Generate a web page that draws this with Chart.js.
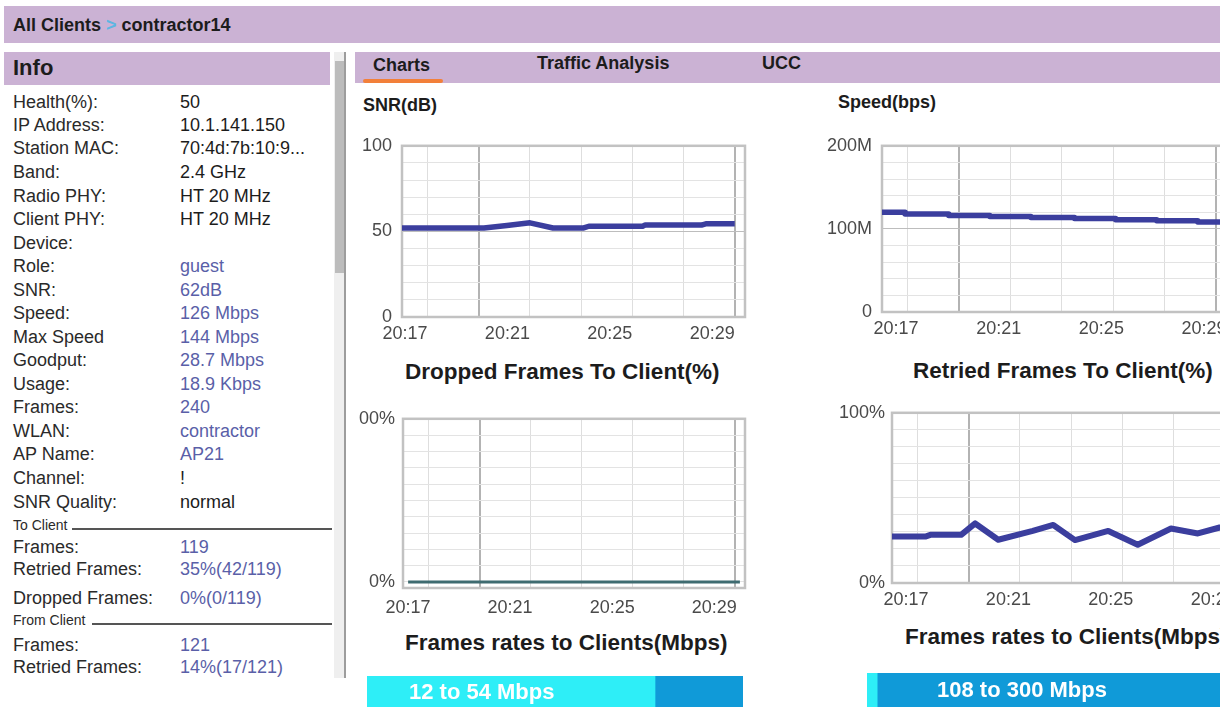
<!DOCTYPE html>
<html>
<head>
<meta charset="utf-8">
<script src="https://cdn.jsdelivr.net/npm/chart.js@4.4.1/dist/chart.umd.min.js"></script>
<style>
  html, body { margin: 0; padding: 0; width: 1220px; height: 709px; overflow: hidden; background: #fff;
    font-family: "Liberation Sans", Arial, sans-serif; color: #1c1c1c; }
  .abs { position: absolute; white-space: nowrap; }
  .band { position: absolute; background: #cbb2d4; }
  .bold { font-weight: bold; }
  canvas { position: absolute; }
  .blue { color: #5a5fa8; }
</style>
</head>
<body>

<!-- top breadcrumb -->
<div class="band" style="left:4px;top:6px;width:1220px;height:37px"></div>
<div class="abs bold" style="left:13px;top:13px;font-size:18px;line-height:24px">All Clients <span style="color:#5cb6e2">&gt;</span> contractor14</div>

<!-- info panel -->
<div class="band" style="left:4px;top:52px;width:326px;height:33px"></div>
<div class="abs bold" style="left:13px;top:55px;font-size:22px;line-height:26px">Info</div>
<div id="info"></div>

<!-- scrollbar -->
<div class="abs" style="left:334px;top:52px;width:10px;height:626px;background:#efefef;border-right:2px solid #9d9d9d"></div>
<div class="abs" style="left:335px;top:61px;width:9px;height:212px;background:#bcbcbc"></div>

<!-- tabs -->
<div class="band" style="left:355px;top:52px;width:870px;height:31px"></div>
<div class="abs bold" style="left:373px;top:53px;font-size:18px;line-height:24px">Charts</div>
<div class="abs" style="left:363px;top:79px;width:80px;height:4px;border-radius:2px;background:#f2803a"></div>
<div class="abs bold" style="left:537px;top:51px;font-size:18px;line-height:24px">Traffic Analysis</div>
<div class="abs bold" style="left:762px;top:51px;font-size:18px;line-height:24px">UCC</div>

<!-- chart titles -->
<div class="abs bold" style="left:363px;top:93px;font-size:18px;line-height:24px">SNR(dB)</div>
<div class="abs bold" style="left:838px;top:90px;font-size:18px;line-height:24px">Speed(bps)</div>
<div class="abs bold" style="left:405px;top:358px;font-size:22.5px;line-height:28px">Dropped Frames To Client(%)</div>
<div class="abs bold" style="left:913px;top:357px;font-size:22.5px;line-height:28px">Retried Frames To Client(%)</div>
<div class="abs bold" style="left:405px;top:629px;font-size:22.5px;line-height:28px">Frames rates to Clients(Mbps)</div>
<div class="abs bold" style="left:905px;top:623px;font-size:22.5px;line-height:28px">Frames rates to Clients(Mbps)</div>

<canvas id="snr" width="400" height="230" style="left:350px;top:125px"></canvas>
<canvas id="speed" width="440" height="225" style="left:800px;top:125px"></canvas>
<canvas id="dropped" width="400" height="230" style="left:350px;top:400px"></canvas>
<canvas id="retried" width="445" height="230" style="left:800px;top:395px"></canvas>

<canvas id="rateLeft" width="376" height="31" style="left:367px;top:676px"></canvas>
<canvas id="rateRight" width="377" height="34" style="left:867px;top:673px"></canvas>
<div class="abs bold" style="left:409px;top:678px;font-size:22px;line-height:28px;color:#fff">12 to 54 Mbps</div>
<div class="abs bold" style="left:937px;top:676px;font-size:22px;line-height:28px;color:#fff">108 to 300 Mbps</div>

<script>
// --- x axis (minutes after 20:17) ---
const timeLabels = ["20:17", "20:21", "20:25", "20:29"];
const labelMinutes = [0, 4, 8, 12];
const gridMinutes = [0, 1, 3, 4, 5, 7, 8, 9, 11, 12, 13];
const majorMinutes = [3, 13];

// --- series ---
const snrTimes  = [0, 3.2, 4.1, 5.0, 5.9, 7.1, 7.3, 9.4, 9.5, 11.7, 11.9, 13];
const snrValues = [52, 52, 53.5, 55, 52, 52, 53, 53, 53.7, 53.7, 54.5, 54.5];

const speedTimes  = [0, 0.9, 2.6, 4.2, 5.8, 7.5, 9.1, 10.7, 12.3, 13.4];
const speedValues = [120, 118, 116, 115, 113.6, 112.5, 111, 109.8, 108.4, 108.4]; // Mbps

const dropTimes  = [0.2, 3, 6, 9, 13.2];
const dropValues = [0, 0, 0, 0, 0];

const retryTimes  = [0, 1.3, 1.5, 2.7, 3.25, 4.15, 5.5, 6.3, 7.15, 8.45, 9.6, 10.9, 11.95, 12.8, 13.2];
const retryValues = [27.3, 27.3, 28.3, 28.3, 35, 25.4, 30.6, 34.1, 25.2, 30.6, 22.5, 32, 29.1, 32.6, 32];

// frame rate bars (share in %)
const lowRateShare  = [76.6, 2.7];
const highRateShare = [23.4, 97.3];

// --- info panel ---
const infoRows = [
  ["Health(%):", "50", 101.7, false],
  ["IP Address:", "10.1.141.150", 125, false],
  ["Station MAC:", "70:4d:7b:10:9...", 148.3, false],
  ["Band:", "2.4 GHz", 171.7, false],
  ["Radio PHY:", "HT 20 MHz", 195.5, false],
  ["Client PHY:", "HT 20 MHz", 218.5, false],
  ["Device:", "", 242.5, false],
  ["Role:", "guest", 266, true],
  ["SNR:", "62dB", 289.5, true],
  ["Speed:", "126 Mbps", 313, true],
  ["Max Speed", "144 Mbps", 336.5, true],
  ["Goodput:", "28.7 Mbps", 360, true],
  ["Usage:", "18.9 Kbps", 383.5, true],
  ["Frames:", "240", 406.5, true],
  ["WLAN:", "contractor", 431, true],
  ["AP Name:", "AP21", 454, true],
  ["Channel:", "!", 478, false],
  ["SNR Quality:", "normal", 501.5, false],
  ["Frames:", "119", 547, true],
  ["Retried Frames:", "35%(42/119)", 568.5, true],
  ["Dropped Frames:", "0%(0/119)", 598, true],
  ["Frames:", "121", 645, true],
  ["Retried Frames:", "14%(17/121)", 667, true],
];
const infoSections = [["To Client", 525, 72], ["From Client", 620, 92]];

let html = "";
infoRows.forEach(([label, value, cy, blue]) => {
  html += `<div class="abs" style="left:13px;top:${cy - 11}px;font-size:18px;line-height:22px;color:#2a2a2a">${label}</div>`;
  html += `<div class="abs${blue ? " blue" : ""}" style="left:180px;top:${cy - 11}px;font-size:18px;line-height:22px">${value}</div>`;
});
infoSections.forEach(([title, cy, lineX]) => {
  html += `<div class="abs" style="left:13px;top:${cy - 8}px;font-size:14px;line-height:16px;color:#2a2a2a">${title}</div>`;
  html += `<div class="abs" style="left:${lineX}px;top:${cy + 3}px;width:${332 - lineX}px;height:1.5px;background:#555"></div>`;
});
document.getElementById("info").innerHTML = html;

// --- charts ---
Chart.defaults.font.family = '"Liberation Sans", Arial, sans-serif';

const framePlugin = {
  id: "frame",
  beforeDatasetsDraw(chart) {
    const { ctx, chartArea: a } = chart;
    ctx.save();
    ctx.strokeStyle = "#c2c2c2";
    ctx.lineWidth = 2.5;
    ctx.strokeRect(a.left, a.top, a.right - a.left, a.bottom - a.top);
    ctx.restore();
  },
};

function lineChart(id, s) {
  return new Chart(document.getElementById(id), {
    type: "line",
    data: {
      datasets: [{
        data: s.times.map((t, i) => ({ x: t, y: s.values[i] })),
        borderColor: s.color,
        borderWidth: s.width,
        pointRadius: 0,
        fill: false,
        tension: 0,
        stepped: s.stepped || false,
        borderJoinStyle: "round",
      }],
    },
    options: {
      responsive: false,
      animation: false,
      events: [],
      layout: { autoPadding: false, padding: { top: s.top, right: s.right, left: 0, bottom: 0 } },
      plugins: { legend: { display: false }, tooltip: { enabled: false } },
      scales: {
        x: {
          type: "linear", min: 0, max: 13.4,
          afterBuildTicks: (sc) => { sc.ticks = gridMinutes.map((v) => ({ value: v })); },
          afterFit: (sc) => { sc.height = s.xh; },
          ticks: {
            autoSkip: false, maxRotation: 0, padding: s.xPad, labelOffset: s.xOff,
            color: "#4a4a4a", font: { size: 18 },
            callback: (v) => { const i = labelMinutes.indexOf(v); return i >= 0 ? timeLabels[i] : ""; },
          },
          grid: {
            drawTicks: false,
            color: (c) => {
              const v = c.tick && c.tick.value;
              if (majorMinutes.includes(v)) return "#b3b3b3";
              if (labelMinutes.includes(v) && v !== 0) return "rgba(0,0,0,0)";
              return "#dedede";
            },
            lineWidth: (c) => (majorMinutes.includes(c.tick && c.tick.value) ? 2 : 1),
          },
          border: { display: false },
        },
        y: {
          type: "linear", min: s.yMin, max: s.yMax,
          afterBuildTicks: (sc) => {
            const t = [];
            for (let i = 0; i * s.yStep <= s.yMax; i++) t.push({ value: i * s.yStep });
            sc.ticks = t;
          },
          afterFit: (sc) => { sc.width = s.yw; },
          ticks: {
            autoSkip: false, padding: s.yPad, color: "#4a4a4a", font: { size: 18 },
            callback: (v) => (s.yLabels[v] !== undefined ? s.yLabels[v] : ""),
          },
          grid: {
            drawTicks: false,
            color: (c) => {
              const v = c.tick && c.tick.value;
              return s.yLabels[v] !== undefined && v !== 0 && v !== s.yMax ? "#bdbdbd" : "#e3e3e3";
            },
          },
          border: { display: false },
        },
      },
    },
    plugins: [framePlugin],
  });
}

lineChart("snr", {
  times: snrTimes, values: snrValues, color: "#3b3e9e", width: 5.5,
  yMin: 0, yMax: 100, yStep: 10, yLabels: { 0: "0", 50: "50", 100: "100" },
  yw: 52, xh: 38, top: 15, right: 5, xOff: 3, xPad: 6, yPad: 10,
});

lineChart("speed", {
  times: speedTimes, values: speedValues, color: "#3b3e9e", width: 5.5, stepped: "before",
  yMin: 0, yMax: 200, yStep: 20, yLabels: { 0: "0", 100: "100M", 200: "200M" },
  yw: 82, xh: 38, top: 14, right: 14, xOff: 14, xPad: 6, yPad: 10,
});

lineChart("dropped", {
  times: dropTimes, values: dropValues, color: "#3e6b70", width: 3,
  yMin: -3.7, yMax: 100, yStep: 10, yLabels: { 0: "0%", 100: "00%" },
  yw: 53, xh: 42, top: 18, right: 5, xOff: 5, xPad: 9, yPad: 8,
});

lineChart("retried", {
  times: retryTimes, values: retryValues, color: "#3b3e9e", width: 6,
  yMin: 0, yMax: 100, yStep: 10, yLabels: { 0: "0%", 100: "100%" },
  yw: 92, xh: 42, top: 16, right: 10, xOff: 14, xPad: 6, yPad: 7,
});

function rateBar(id, i) {
  return new Chart(document.getElementById(id), {
    type: "bar",
    data: {
      labels: [""],
      datasets: [
        { data: [lowRateShare[i]], backgroundColor: "#2eeef7", borderWidth: 0, barPercentage: 1, categoryPercentage: 1 },
        { data: [highRateShare[i]], backgroundColor: "#109ad8", borderWidth: 0, barPercentage: 1, categoryPercentage: 1 },
      ],
    },
    options: {
      indexAxis: "y",
      responsive: false,
      animation: false,
      events: [],
      layout: { autoPadding: false, padding: 0 },
      plugins: { legend: { display: false }, tooltip: { enabled: false } },
      scales: {
        x: { stacked: true, min: 0, max: 100, display: false },
        y: { stacked: true, display: false },
      },
    },
  });
}

rateBar("rateLeft", 0);
rateBar("rateRight", 1);
</script>
</body>
</html>
